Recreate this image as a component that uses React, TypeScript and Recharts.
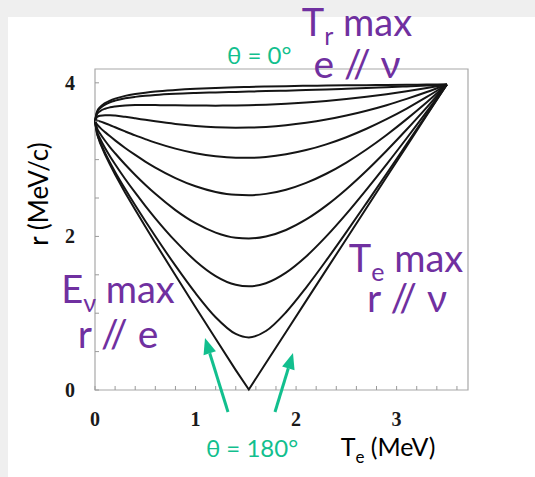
import React from "react";
import { LineChart, Line, XAxis, YAxis, ReferenceArea } from "recharts";

// electron kinetic energy T_e (MeV) sample positions
const TE = [0, 0.02, 0.05, 0.1, 0.15, 0.2, 0.3, 0.4, 0.5, 0.6, 0.8, 1.0, 1.2, 1.4, 1.53, 1.7, 1.9, 2.1, 2.3, 2.5, 2.7, 2.9, 3.1, 3.3, 3.5];

// recoil momentum r (MeV/c) for each angle theta
const R_0 = [3.5, 3.624, 3.682, 3.735, 3.769, 3.794, 3.83, 3.854, 3.872, 3.887, 3.907, 3.922, 3.933, 3.941, 3.946, 3.951, 3.956, 3.961, 3.964, 3.967, 3.97, 3.973, 3.975, 3.977, 3.978];
const R_20 = [3.5, 3.616, 3.668, 3.717, 3.747, 3.768, 3.798, 3.817, 3.831, 3.842, 3.857, 3.867, 3.875, 3.882, 3.886, 3.892, 3.898, 3.906, 3.913, 3.922, 3.931, 3.942, 3.953, 3.965, 3.978];
const R_40 = [3.5, 3.592, 3.63, 3.663, 3.681, 3.692, 3.705, 3.71, 3.711, 3.71, 3.707, 3.704, 3.703, 3.705, 3.708, 3.715, 3.727, 3.743, 3.763, 3.788, 3.818, 3.852, 3.89, 3.932, 3.978];
const R_60 = [3.5, 3.554, 3.571, 3.579, 3.578, 3.573, 3.557, 3.538, 3.518, 3.499, 3.465, 3.439, 3.422, 3.416, 3.417, 3.426, 3.447, 3.479, 3.521, 3.574, 3.637, 3.709, 3.791, 3.88, 3.978];
const R_80 = [3.5, 3.508, 3.498, 3.474, 3.448, 3.421, 3.367, 3.315, 3.267, 3.221, 3.143, 3.083, 3.043, 3.024, 3.023, 3.035, 3.069, 3.124, 3.199, 3.292, 3.402, 3.527, 3.665, 3.816, 3.978];
const R_100 = [3.5, 3.458, 3.417, 3.358, 3.303, 3.251, 3.152, 3.061, 2.975, 2.897, 2.76, 2.653, 2.579, 2.541, 2.537, 2.554, 2.608, 2.697, 2.816, 2.962, 3.132, 3.321, 3.527, 3.747, 3.978];
const R_120 = [3.5, 3.41, 3.34, 3.246, 3.161, 3.083, 2.936, 2.8, 2.673, 2.554, 2.343, 2.172, 2.05, 1.983, 1.973, 1.999, 2.084, 2.221, 2.401, 2.615, 2.855, 3.116, 3.392, 3.681, 3.978];
const R_140 = [3.5, 3.371, 3.276, 3.151, 3.041, 2.939, 2.748, 2.569, 2.398, 2.236, 1.938, 1.681, 1.484, 1.37, 1.35, 1.391, 1.529, 1.739, 2.0, 2.293, 2.609, 2.938, 3.278, 3.626, 3.978];
const R_160 = [3.5, 3.345, 3.233, 3.087, 2.96, 2.84, 2.617, 2.405, 2.201, 2.002, 1.619, 1.261, 0.948, 0.73, 0.685, 0.768, 1.013, 1.334, 1.687, 2.056, 2.434, 2.816, 3.202, 3.589, 3.978];
const R_180 = [3.5, 3.336, 3.219, 3.065, 2.931, 2.806, 2.57, 2.346, 2.128, 1.914, 1.493, 1.078, 0.667, 0.259, 0.006, 0.351, 0.756, 1.161, 1.564, 1.967, 2.37, 2.773, 3.175, 3.577, 3.978];

const SERIES: [string, number[]][] = [
  ["t0", R_0], ["t20", R_20], ["t40", R_40], ["t60", R_60], ["t80", R_80],
  ["t100", R_100], ["t120", R_120], ["t140", R_140], ["t160", R_160], ["t180", R_180],
];

const X_TICKS = [0, 0.2, 0.4, 0.6, 0.8, 1, 1.2, 1.4, 1.6, 1.8, 2, 2.2, 2.4, 2.6, 2.8, 3, 3.2, 3.4, 3.6];
const X_LABELS = [0, 1, 2, 3];
const Y_TICKS = [0, 0.5, 1, 1.5, 2, 2.5, 3, 3.5, 4];
const Y_LABELS = [0, 2, 4];

const X_MAX = 3.71;
const Y_MAX = 4.18;

const data = TE.map((t, i) => {
  const row: Record<string, number> = { te: t };
  SERIES.forEach(([k, arr]) => { row[k] = arr[i]; });
  return row;
});

const TEAL = "#12BF8E";
const PURPLE = "#7030A0";
const SANS = "Lato, 'Noto Sans', 'DejaVu Sans', sans-serif";
const PLOT_BOTTOM = 390;
const PLOT_LEFT = 95;

const XTick = (props: any) => {
  const { x, payload } = props;
  const v = payload.value;
  const y = PLOT_BOTTOM;
  return (
    <g>
      <line x1={x} x2={x} y1={y} y2={y - 4} stroke="#9a9a9a" strokeWidth={1} />
      {X_LABELS.includes(v) && (
        <text x={x} y={y + 36} textAnchor="middle" fontFamily="'Liberation Serif', serif" fontWeight="bold" fontSize={20} fill="#1a1a1a">
          {v}
        </text>
      )}
    </g>
  );
};

const YTick = (props: any) => {
  const { y, payload } = props;
  const v = payload.value;
  const x = PLOT_LEFT;
  return (
    <g>
      <line x1={x} x2={x + 4} y1={y} y2={y} stroke="#9a9a9a" strokeWidth={1} />
      {Y_LABELS.includes(v) && (
        <text x={x - 25} y={y + 7} textAnchor="middle" fontFamily="'Liberation Serif', serif" fontWeight="bold" fontSize={20} fill="#1a1a1a">
          {v}
        </text>
      )}
    </g>
  );
};

const Arrow = ({ x1, y1, x2, y2 }: { x1: number; y1: number; x2: number; y2: number }) => {
  const dx = x2 - x1;
  const dy = y2 - y1;
  const len = Math.sqrt(dx * dx + dy * dy);
  const ux = dx / len;
  const uy = dy / len;
  const hl = 16;
  const hw = 6.5;
  const bx = x2 - ux * hl;
  const by = y2 - uy * hl;
  const px = -uy * hw;
  const py = ux * hw;
  return (
    <g>
      <line x1={x1} y1={y1} x2={bx} y2={by} stroke={TEAL} strokeWidth={3} />
      <polygon points={`${x2},${y2} ${bx + px},${by + py} ${bx - px},${by - py}`} fill={TEAL} />
    </g>
  );
};

export default function App() {
  return (
    <div style={{ position: "fixed", left: 0, top: 0, width: 535, height: 477, background: "#efefef", overflow: "hidden" }}>
      <div style={{ position: "absolute", left: 8, top: 17, right: 0, bottom: 0, background: "#ffffff" }} />
      <div style={{ position: "absolute", left: 0, top: 0 }}>
        <LineChart
          width={535}
          height={477}
          data={data}
          margin={{ top: 69, right: 67, bottom: 47, left: 55 }}
        >
          <XAxis
            dataKey="te"
            type="number"
            domain={[0, X_MAX]}
            ticks={X_TICKS}
            interval={0}
            height={40}
            axisLine={false}
            tickLine={false}
            tick={<XTick />}
          />
          <YAxis
            type="number"
            domain={[0, Y_MAX]}
            ticks={Y_TICKS}
            interval={0}
            width={40}
            axisLine={false}
            tickLine={false}
            tick={<YTick />}
          />
          <ReferenceArea x1={0} x2={X_MAX} y1={0} y2={Y_MAX} fill="none" stroke="#a8a8a8" strokeWidth={1.2} ifOverflow="visible" />
          {SERIES.map(([k]) => (
            <Line
              key={k}
              dataKey={k}
              type={k === "t180" ? "linear" : "monotone"}
              stroke="#151515"
              strokeWidth={2}
              dot={false}
              activeDot={false}
              isAnimationActive={false}
            />
          ))}
        </LineChart>
      </div>
      <svg width={535} height={477} style={{ position: "absolute", left: 0, top: 0, pointerEvents: "none" }}>
        <text x={227} y={64} fontFamily={SANS} fontSize={24} fill={TEAL}>θ = 0°</text>
        <text x={357} y={36} textAnchor="middle" fontFamily={SANS} fontSize={38} fill={PURPLE}>
          <tspan>T</tspan>
          <tspan fontSize={25} dy={9}>r</tspan>
          <tspan dy={-9}> max</tspan>
        </text>
        <text x={357} y={78} textAnchor="middle" fontFamily={SANS} fontSize={39} fill={PURPLE}>e // ν</text>
        <text x={406} y={272} textAnchor="middle" fontFamily={SANS} fontSize={38} fill={PURPLE}>
          <tspan>T</tspan>
          <tspan fontSize={25} dy={9}>e</tspan>
          <tspan dy={-9}> max</tspan>
        </text>
        <text x={407} y={312} textAnchor="middle" fontFamily={SANS} fontSize={39} fill={PURPLE}>r // ν</text>
        <text x={118} y={303} textAnchor="middle" fontFamily={SANS} fontSize={38} fill={PURPLE}>
          <tspan>E</tspan>
          <tspan fontSize={25} dy={9}>ν</tspan>
          <tspan dy={-9}> max</tspan>
        </text>
        <text x={118} y={348} textAnchor="middle" fontFamily={SANS} fontSize={39} fill={PURPLE}>r // e</text>
        <text x={252} y={457} textAnchor="middle" fontFamily={SANS} fontSize={24} fill={TEAL}>θ = 180°</text>
        <text x={388} y={456} textAnchor="middle" fontFamily={SANS} fontSize={25} fill="#000">
          <tspan>T</tspan>
          <tspan fontSize={17} dy={7}>e</tspan>
          <tspan dy={-7}> (MeV)</tspan>
        </text>
        <text x={0} y={0} transform="translate(48,194) rotate(-90)" textAnchor="middle" fontFamily={SANS} fontSize={26} fill="#000">r (MeV/c)</text>
        <Arrow x1={228} y1={412} x2={205} y2={338} />
        <Arrow x1={275} y1={412} x2={293} y2={353} />
      </svg>
    </div>
  );
}
